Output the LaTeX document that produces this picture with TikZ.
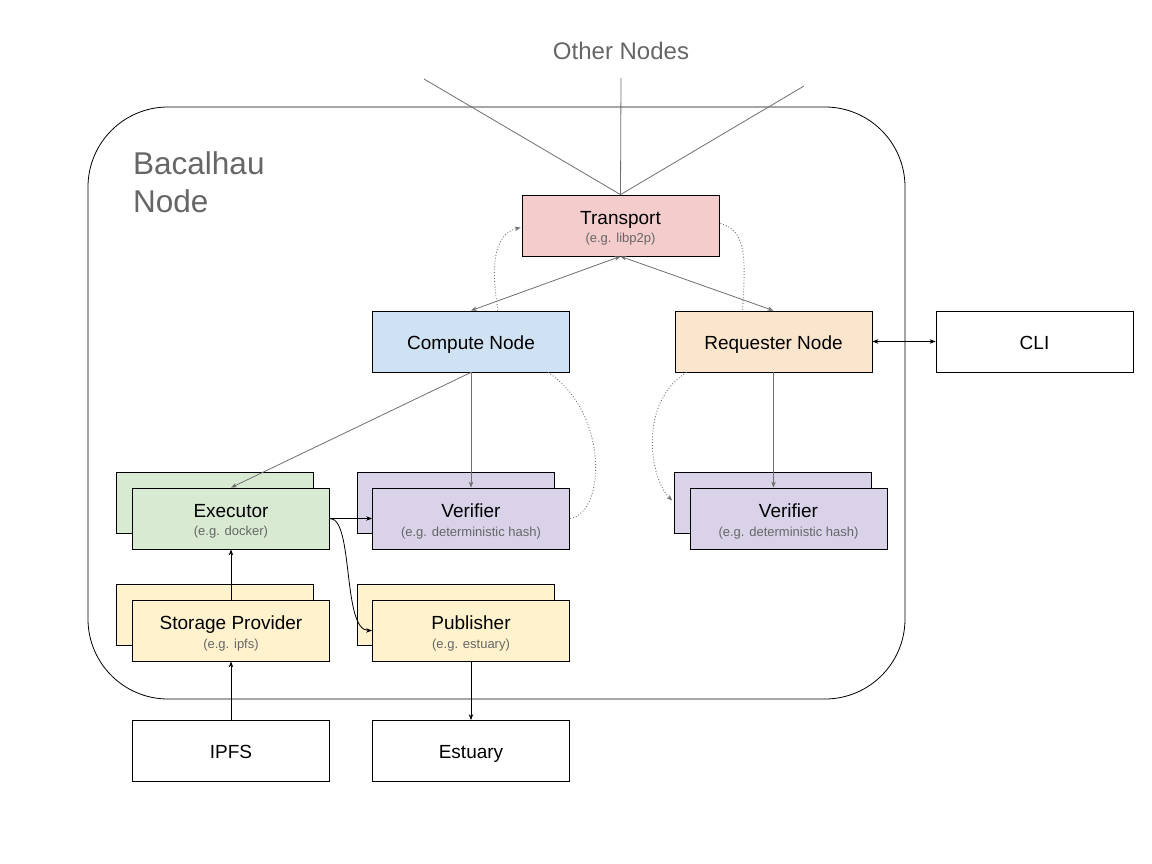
\documentclass[tikz,border=0pt]{standalone}
\usepackage{fontspec}
\setmainfont{Liberation Sans}
\usetikzlibrary{arrows.meta,calc}
\definecolor{txtgray}{HTML}{666666}
\definecolor{lngray}{HTML}{6f6f6f}
\definecolor{cpink}{HTML}{F4CCCC}
\definecolor{cblue}{HTML}{CFE2F3}
\definecolor{corange}{HTML}{FCE5CD}
\definecolor{cgreen}{HTML}{D9EAD3}
\definecolor{cpurple}{HTML}{D9D2E9}
\definecolor{cyellow}{HTML}{FFF2CC}
\newcommand{\subl}[1]{\\[-3.5pt]{\fontsize{13}{15}\selectfont\color{txtgray}#1}}
\begin{document}
\begin{tikzpicture}[x=1pt,y=-1pt,
  box/.style={draw=black, line width=0.8pt, minimum width=197pt, minimum height=61pt, inner sep=0pt},
  lbl/.style={align=center, font=\fontsize{19}{22}\selectfont, yshift=-3pt, inner sep=0pt},
  gline/.style={draw=lngray, line width=0.8pt},
  garr/.style={gline, {Stealth[length=6pt,width=4.5pt]}-{Stealth[length=6pt,width=4.5pt]}},
  gto/.style={gline, -{Stealth[length=6pt,width=4.5pt]}},
  barr/.style={draw=black, line width=0.8pt, -{Stealth[length=6pt,width=4.5pt]}},
  bdarr/.style={draw=black, line width=0.8pt, {Stealth[length=6pt,width=4.5pt]}-{Stealth[length=6pt,width=4.5pt]}},
  dot/.style={draw=lngray, line width=0.9pt, dotted},
  dotarr/.style={dot, -{Stealth[length=6pt,width=4.5pt]}}
]
\useasboundingbox (0,0) rectangle (1152,864);
\fill[white] (0,0) rectangle (1152,864);

% container
\node[draw=black, line width=0.8pt, rounded corners=80pt, minimum width=817pt, minimum height=592pt, inner sep=0pt] (bac) at (496.5,403) {};
\node[anchor=north west, align=left, text=txtgray, font=\fontsize{31.5}{38}\selectfont, inner sep=0pt] (title) at (133,151) {Bacalhau\\Node};

% other nodes
\node[text=txtgray, font=\fontsize{24}{28}\selectfont] (other) at (621,51) {Other Nodes};
\coordinate (o1) at (424,79);
\coordinate (o2) at (621,78);
\coordinate (o3) at (804,86);

% main boxes
\node[box, fill=cpink, label={[lbl]center:Transport\subl{(e.g. libp2p)}}] (trans) at (620.5,225.5) {};
\node[box, fill=cblue, label={[lbl]center:Compute Node}] (comp) at (471,341.5) {};
\node[box, fill=corange, label={[lbl]center:Requester Node}] (req) at (773.5,341.5) {};
\node[box, fill=white, label={[lbl]center:CLI\vphantom{p}}] (cli) at (1034.5,341.5) {};

% stacked boxes
\node[box, fill=cgreen] (execB) at (215,502.5) {};
\node[box, fill=cgreen, label={[lbl]center:Executor\subl{(e.g. docker)}}] (exec) at (231,518.5) {};
\node[box, fill=cpurple] (verB) at (456,502.5) {};
\node[box, fill=cpurple, label={[lbl]center:Verifier\subl{(e.g. deterministic hash)}}] (ver) at (471,518.5) {};
\node[box, fill=cpurple] (rverB) at (773,502.5) {};
\node[box, fill=cpurple, label={[lbl]center:Verifier\subl{(e.g. deterministic hash)}}] (rver) at (788.5,518.5) {};
\node[box, fill=cyellow] (storB) at (215,614.5) {};
\node[box, fill=cyellow, label={[lbl]center:Storage Provider\subl{(e.g. ipfs)}}] (stor) at (231,630.5) {};
\node[box, fill=cyellow] (pubB) at (456,614.5) {};
\node[box, fill=cyellow, label={[lbl]center:Publisher\subl{(e.g. estuary)}}] (pub) at (471,630.5) {};

% external
\node[box, fill=white, label={[lbl]center:IPFS\vphantom{p}}] (ipfs) at (231,751) {};
\node[box, fill=white, label={[lbl]center:Estuary}] (est) at (471,751) {};

% lines to other nodes
\draw[gline] (trans.north) -- (o1);
\draw[gline] (trans.north) -- (o2);
\draw[gline] (trans.north) -- (o3);

% transport links
\draw[garr] (comp.north) -- (trans.south);
\draw[garr] (req.north) -- (trans.south);
\draw[dotarr] ($(comp.north)+(27,0)$) .. controls ($(comp.north)+(18,-55)$) and ($(trans.west)+(-24,8)$) .. ($(trans.west)+(-1,2)$);
\draw[dot] ($(trans.east)+(1,-2)$) .. controls ($(trans.east)+(28,5)$) and ($(req.north)+(-28,-50)$) .. ($(req.north)+(-31,0)$);

% CLI
\draw[bdarr] (req.east) -- (cli.west);

% compute node children
\draw[gto] (comp.south) -- (exec.north);
\draw[gto] (comp.south) -- (ver.north);
\draw[dot] ($(comp.south)+(77,0)$) .. controls ($(comp.south)+(138,40)$) and ($(ver.east)+(36,-5)$) .. (ver.east);

% requester children
\draw[gto] (req.south) -- (req.south |- rver.north);
\draw[dotarr] ($(req.south)+(-87,0)$) .. controls ($(req.south)+(-135,30)$) and ($(rverB.west)+(-25,-25)$) .. ($(rverB.west)+(-2,-2)$);

% executor links
\draw[barr] (exec.east) -- (ver.west);
\draw[barr] (exec.east) .. controls ($(exec.east)+(24,0)$) and ($(pub.west)+(-30,0)$) .. (pub.west);
\draw[barr] (stor.north) -- (exec.south);
\draw[barr] (ipfs.north) -- (stor.south);
\draw[barr] (pub.south) -- (est.north);
\end{tikzpicture}
\end{document}
